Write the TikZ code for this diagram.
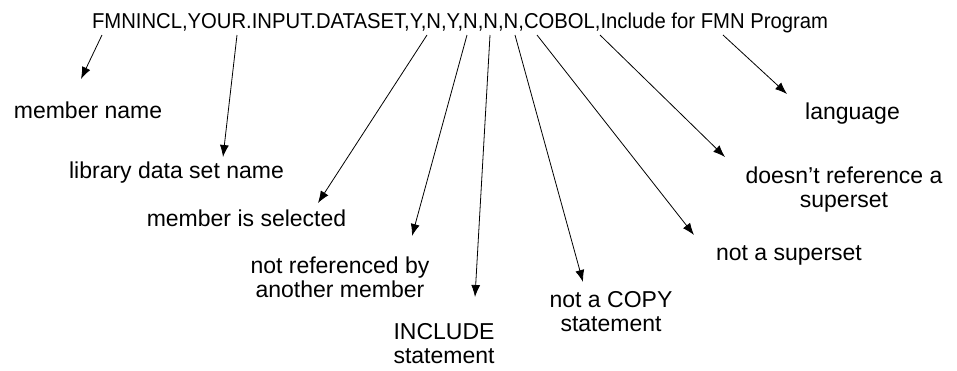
\documentclass[tikz,border=0pt]{standalone}
\usepackage{fontspec}
\setmainfont{Liberation Sans}
\usepackage{graphicx}
\usetikzlibrary{arrows.meta}
\begin{document}
\begin{tikzpicture}[x=1pt,y=-1pt,
  lbl/.style={inner sep=0pt,anchor=base,font=\fontsize{23}{24}\selectfont},
  hdr/.style={inner sep=0pt,anchor=base,font=\fontsize{21.5}{24}\selectfont},
  arr/.style={line width=0.8pt,-{Latex[length=12pt,width=9pt]}}]
\fill[white] (0,0) rectangle (957,370);
\useasboundingbox (0,0) rectangle (957,370);
\renewcommand{\arraystretch}{1}
% header
\node[hdr] (hd) at (460,28) {\resizebox{736pt}{\height}{FMNINCL,YOUR.INPUT.DATASET,Y,N,Y,N,N,N,COBOL,Include for FMN Program}};
% labels
\node[lbl] (mn) at (88,118) {member name};
\node[lbl] (ld) at (176.5,178) {library data set name};
\node[lbl] (ms) at (246.5,226) {member is selected};
\node[lbl] (nr) at (340,273) {\begin{tabular}[t]{@{}c@{}}not referenced by\\another member\end{tabular}};
\node[lbl] (is) at (444,339) {\begin{tabular}[t]{@{}c@{}}INCLUDE\\statement\end{tabular}};
\node[lbl] (nc) at (611,307) {\begin{tabular}[t]{@{}c@{}}not a COPY\\statement\end{tabular}};
\node[lbl] (ns) at (789,260) {not a superset};
\node[lbl] (dr) at (844,183) {\begin{tabular}[t]{@{}c@{}}doesn't reference a\\superset\end{tabular}};
\node[lbl] (lg) at (852.5,119) {language};
% connector ends
\coordinate (s1) at (102,35);  \coordinate (t1) at (81,79);
\coordinate (s2) at (237,35);  \coordinate (t2) at (223,157);
\coordinate (s3) at (427,35);  \coordinate (t3) at (318,203);
\coordinate (s4) at (467,35);  \coordinate (t4) at (412,236);
\coordinate (s5) at (490,35);  \coordinate (t5) at (475,297);
\coordinate (s6) at (515,35);  \coordinate (t6) at (583,282);
\coordinate (s7) at (537,35);  \coordinate (t7) at (694,235);
\coordinate (s8) at (600,35);  \coordinate (t8) at (725,157);
\coordinate (s9) at (723,35);  \coordinate (t9) at (787,94);
\foreach \i in {1,...,9} {\draw[arr] (s\i) -- (t\i);}
\end{tikzpicture}
\end{document}
